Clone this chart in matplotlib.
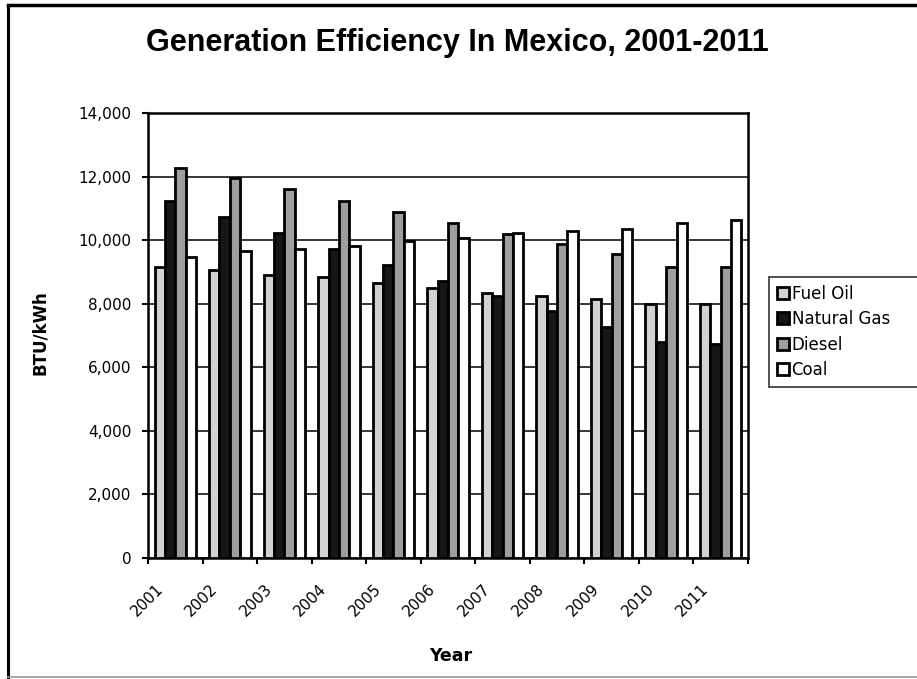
import matplotlib
matplotlib.use("Agg")
import matplotlib.pyplot as plt
from matplotlib.lines import Line2D
from matplotlib.transforms import ScaledTranslation
import numpy as np

years = ["2001", "2002", "2003", "2004", "2005", "2006",
         "2007", "2008", "2009", "2010", "2011"]
fuel_oil = [9140, 9060, 8910, 8830, 8640, 8480, 8330, 8230, 8140, 7990, 7990]
natural_gas = [11220, 10720, 10210, 9730, 9230, 8720, 8250, 7780, 7280, 6780, 6730]
diesel = [12270, 11960, 11620, 11220, 10870, 10540, 10190, 9880, 9560, 9170, 9170]
coal = [9480, 9650, 9720, 9810, 9980, 10060, 10210, 10280, 10360, 10550, 10640]
series_names = ["Fuel Oil", "Natural Gas", "Diesel", "Coal"]
y_ticks = [0, 2000, 4000, 6000, 8000, 10000, 12000, 14000]

W, H = 917, 679
fig = plt.figure(figsize=(W / 100, H / 100), dpi=100)
fig.patch.set_facecolor("white")

# plot area in pixel coordinates
L, R, T, B = 148, 748, 113, 558
ax = fig.add_axes([L / W, 1 - B / H, (R - L) / W, (B - T) / H])

series = [fuel_oil, natural_gas, diesel, coal]
faces = ["#d2d2d2", "#161616", "#9e9e9e", "#ffffff"]
x = np.arange(len(years))
bw = 0.19
for k, (vals, fc, name) in enumerate(zip(series, faces, series_names)):
    ax.bar(x + (k - 1.5) * bw, vals, width=bw, color=fc, edgecolor="black",
           linewidth=2.0, label=name, zorder=3)

ax.set_xlim(-0.5, len(years) - 0.5)
ax.set_ylim(0, 14000)
ax.set_yticks(y_ticks)
ax.set_yticklabels([f"{v:,}" for v in y_ticks], fontsize=11)
ax.yaxis.grid(True, color="black", linewidth=1.1, zorder=0)
ax.set_axisbelow(True)

# category labels at the centres, boundary tick marks between categories
ax.set_xticks(x)
ax.set_xticklabels(years, fontsize=11, rotation=45, ha="right",
                   va="top", rotation_mode="anchor")
ax.tick_params(axis="x", which="major", length=0, pad=17)
ax.set_xticks(np.arange(len(years) + 1) - 0.5, minor=True)
ax.tick_params(axis="x", which="minor", length=4, width=1.5, direction="out")
ax.tick_params(axis="y", length=4, width=1.5, direction="out", pad=8)
shift = ScaledTranslation(-20 / 100, 0, fig.dpi_scale_trans)
for lab in ax.get_xticklabels():
    lab.set_transform(lab.get_transform() + shift)

for sp in ax.spines.values():
    sp.set_linewidth(1.8)
    sp.set_color("black")

fig.text(40 / W, 1 - 333 / H, "BTU/kWh", rotation=90, fontsize=12,
         fontweight="bold", ha="center", va="center")
fig.text(451 / W, 1 - 656 / H, "Year", fontsize=12.5, fontweight="bold",
         ha="center", va="center")
fig.text(457 / W, 1 - 43 / H, "Generation Efficiency In Mexico, 2001-2011",
         fontsize=22, fontweight="bold", ha="center", va="center",
         family=["Liberation Sans", "DejaVu Sans"])

leg = fig.legend(loc="upper left",
                 bbox_to_anchor=(769 / W, 1 - 393 / H, (925 - 769) / W, 116 / H),
                 mode="expand", fontsize=12, frameon=True, fancybox=False,
                 handlelength=0.75, handleheight=0.75, handletextpad=0.15,
                 labelspacing=0.45, borderpad=0.45, borderaxespad=0)
leg.get_frame().set_edgecolor("black")
leg.get_frame().set_linewidth(1.2)

# outer chart border
fig.add_artist(Line2D([8 / W, 8 / W], [1 - 677 / H, 1 - 5 / H],
                      color="black", linewidth=2.2, transform=fig.transFigure))
fig.add_artist(Line2D([8 / W, 1.0], [1 - 5 / H, 1 - 5 / H],
                      color="black", linewidth=2.5, transform=fig.transFigure))
fig.add_artist(Line2D([8 / W, 1.0], [1 - 677 / H, 1 - 677 / H],
                      color="#999999", linewidth=1.2, transform=fig.transFigure))

fig.savefig("out.png", dpi=100)
